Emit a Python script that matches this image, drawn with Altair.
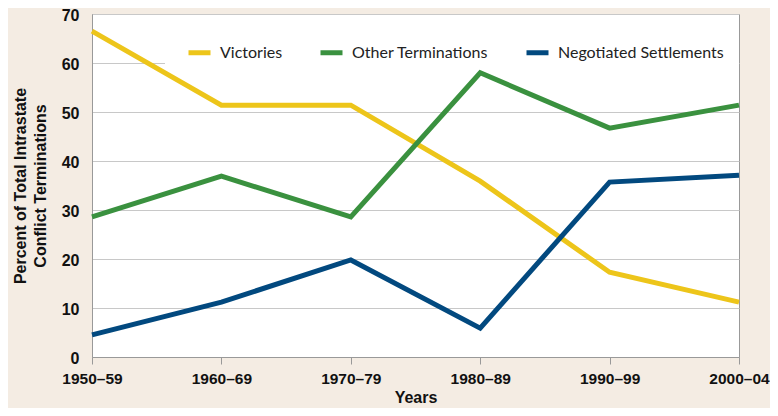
import altair as alt
import pandas as pd

periods = ["1950–59", "1960–69", "1970–79", "1980–89", "1990–99", "2000–04"]
victories = [66.5, 51.4, 51.4, 35.9, 17.3, 11.2]
other_terms = [28.6, 36.9, 28.6, 58.0, 46.7, 51.4]
negotiated = [4.5, 11.2, 19.8, 5.9, 35.7, 37.1]
series_names = ["Victories", "Other Terminations", "Negotiated Settlements"]
series_colors = ["#edc51a", "#3a913f", "#02497f"]

rows = []
for name, vals in zip(series_names, [victories, other_terms, negotiated]):
    for p, v in zip(periods, vals):
        rows.append({"period": p, "value": v, "series": name})
df = pd.DataFrame(rows)

# white panel behind the legend (hides part of the 60 gridline, as in the original)
legend_bg = alt.Chart(alt.Data(values=[{"k": 1}])).mark_rect(fill="white").encode(
    x=alt.value(73), x2=alt.value(647), y=alt.value(22), y2=alt.value(53)
)

lines = alt.Chart(df).mark_line(strokeWidth=5).encode(
    x=alt.X("period:O", sort=periods, scale=alt.Scale(type="point", padding=0),
            axis=alt.Axis(title="Years", labelAngle=0, labelFont="Liberation Sans",
                          labelFontWeight="bold", labelFontSize=15.5, labelColor="#111",
                          titleFont="Liberation Sans", titleFontWeight="bold", titleFontSize=16,
                          titleColor="#111", tickColor="#999", tickSize=7, domainColor="#999",
                          labelPadding=7, titlePadding=3, grid=False)),
    y=alt.Y("value:Q", scale=alt.Scale(domain=[0, 70], nice=False),
            axis=alt.Axis(title=["Percent of Total Intrastate", "Conflict Terminations"],
                          values=list(range(0, 71, 10)), labelFont="Liberation Sans",
                          labelFontWeight="bold", labelFontSize=16, labelColor="#111",
                          labelOffset=1.5,
                          titleFont="Liberation Sans", titleFontWeight="bold", titleFontSize=16,
                          titleColor="#111", titleLineHeight=20, ticks=False, domainColor="#999",
                          labelPadding=13, titlePadding=13, gridColor="#c8c8c8")),
    color=alt.Color("series:N", sort=series_names,
                    scale=alt.Scale(domain=series_names, range=series_colors),
                    legend=alt.Legend(title=None, orient="none", direction="horizontal",
                                      legendX=94, legendY=25, padding=0,
                                      symbolType="stroke", symbolStrokeWidth=5, symbolSize=484,
                                      labelFont="Lato", labelFontSize=16, labelColor="#222",
                                      labelLimit=400,
                                      columnPadding=27, labelOffset=7)),
)

chart = alt.layer(legend_bg, lines).properties(
    width=647, height=343,
    background="#f4ece3",
    padding={"left": 84, "top": 6, "right": 31, "bottom": 51},
    autosize=alt.AutoSizeParams(type="none"),
).configure_view(fill="white", stroke="#999", strokeWidth=1)

chart.save("out.html", embed_options={"renderer": "svg", "actions": False})
